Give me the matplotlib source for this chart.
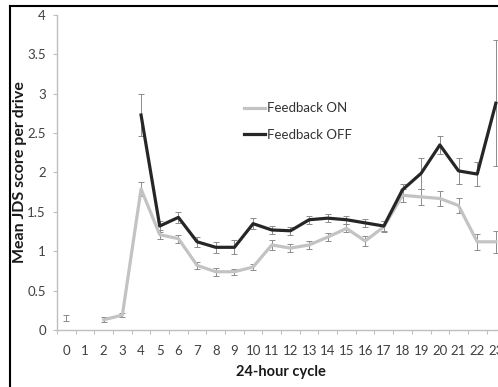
import matplotlib.pyplot as plt
from matplotlib.lines import Line2D
import numpy as np

hours = [str(h) for h in range(24)]
nan = np.nan

fb_on = [0.15, nan, 0.13, 0.19, 1.79, 1.21, 1.16, 0.82, 0.74, 0.74, 0.80, 1.08,
         1.04, 1.08, 1.18, 1.29, 1.13, 1.31, 1.71, 1.69, 1.67, 1.58, 1.12, 1.12]
fb_on_err = [0.04, nan, 0.03, 0.03, 0.09, 0.06, 0.05, 0.04, 0.05, 0.04, 0.04, 0.06,
             0.05, 0.05, 0.05, 0.05, 0.06, 0.07, 0.08, 0.10, 0.10, 0.09, 0.10, 0.14]

fb_off = [nan, nan, nan, nan, 2.73, 1.32, 1.43, 1.12, 1.05, 1.05, 1.35, 1.27,
          1.26, 1.40, 1.42, 1.40, 1.36, 1.32, 1.78, 1.99, 2.35, 2.02, 1.98, 2.88]
fb_off_err = [nan, nan, nan, nan, 0.27, 0.07, 0.07, 0.06, 0.07, 0.09, 0.07, 0.05,
              0.05, 0.05, 0.05, 0.05, 0.05, 0.06, 0.07, 0.20, 0.11, 0.17, 0.15, 0.80]

x = np.arange(len(hours))

plt.rcParams['font.family'] = ['Lato', 'DejaVu Sans']

fig = plt.figure(figsize=(4.98, 3.87), dpi=100)
ax = fig.add_axes([0.1145, 0.1473, 0.9, 0.814])

on_col = '#c3c3c3'
off_col = '#262626'
err_col = '#8c8c8c'

ax.errorbar(x, fb_on, yerr=fb_on_err, fmt='none', ecolor=err_col,
            elinewidth=0.7, capsize=2, capthick=0.7, zorder=2)
ax.errorbar(x, fb_off, yerr=fb_off_err, fmt='none', ecolor=err_col,
            elinewidth=0.7, capsize=2, capthick=0.7, zorder=2)
ax.plot(x, fb_on, color=on_col, lw=2.3, label='Feedback ON', zorder=3)
ax.plot(x, fb_off, color=off_col, lw=2.3, label='Feedback OFF', zorder=4)

ax.set_xlim(-0.5, 23.5)
ax.set_ylim(0, 4)
ax.set_yticks([0, 0.5, 1, 1.5, 2, 2.5, 3, 3.5, 4])
ax.set_yticklabels(['0', '0.5', '1', '1.5', '2', '2.5', '3', '3.5', '4'])

ax.set_xticks(np.arange(-0.5, 24, 1))
ax.set_xticklabels([])
ax.set_xticks(x, minor=True)
ax.set_xticklabels(hours, minor=True)

for s in ['top', 'right']:
    ax.spines[s].set_visible(False)
for s in ['left', 'bottom']:
    ax.spines[s].set_color('#bfbfbf')
    ax.spines[s].set_linewidth(1.0)

ax.tick_params(axis='y', direction='out', length=3, width=0.8, color='#bfbfbf',
               labelsize=9.5, labelcolor='#404040', pad=5)
ax.tick_params(axis='x', which='major', direction='out', length=3, width=0.8,
               color='#bfbfbf')
ax.tick_params(axis='x', which='minor', length=0, labelsize=9.5,
               labelcolor='#404040', pad=11)

ax.set_ylabel('Mean JDS score per drive', fontsize=11.5, fontweight='bold',
              color='#1a1a1a')
ax.yaxis.set_label_coords(-0.068, 0.5)
ax.set_xlabel('24-hour cycle', fontsize=10.5, fontweight='bold', color='#1a1a1a')
ax.xaxis.set_label_coords(0.5, -0.112)

ax.legend(loc='upper left', bbox_to_anchor=(0.39, 0.76), frameon=False,
          fontsize=9.5, handlelength=1.6, handletextpad=0.2, labelspacing=1.1,
          labelcolor='#333333')

# border of the original figure (only top and left visible after crop)
fig.add_artist(Line2D([10 / 498, 1.0], [1 - 6 / 387, 1 - 6 / 387],
                      transform=fig.transFigure, color='black', lw=1.5))
fig.add_artist(Line2D([10 / 498, 10 / 498], [0, 1 - 6 / 387],
                      transform=fig.transFigure, color='black', lw=1.5))

fig.savefig('out.png', dpi=100)
